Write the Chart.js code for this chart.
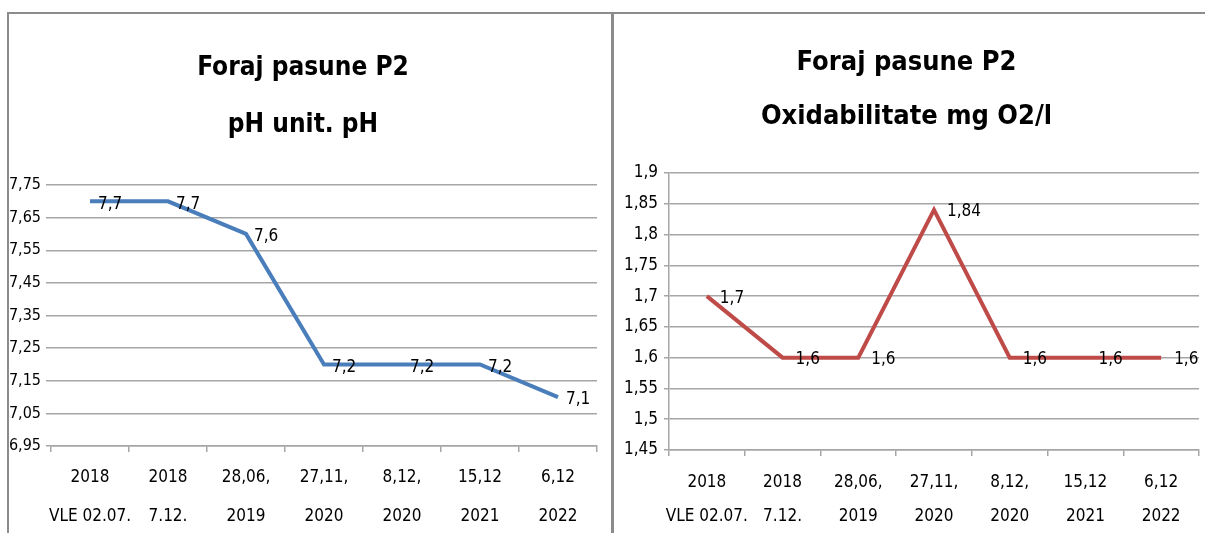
<!DOCTYPE html>
<html><head><meta charset="utf-8">
<script src="https://cdn.jsdelivr.net/npm/chart.js@4.4.1/dist/chart.umd.min.js"></script>
<style>
html,body{margin:0;padding:0;background:#fff;width:1205px;height:533px;overflow:hidden;position:relative}
#frameTop{position:absolute;left:7px;top:12px;width:1198px;height:2px;background:#8c8c8c}
#frameL{position:absolute;left:7px;top:12px;width:2px;height:521px;background:#8c8c8c}
#frameM{position:absolute;left:611px;top:12px;width:3px;height:521px;background:#8c8c8c}
#c1{position:absolute;left:9px;top:14px;width:602px;height:519px}
#c2{position:absolute;left:614px;top:14px;width:591px;height:519px}
</style></head><body>
<div id="frameTop"></div><div id="frameL"></div><div id="frameM"></div>
<canvas id="c1" width="602" height="519"></canvas>
<canvas id="c2" width="591" height="519"></canvas>
<script>
const categories = [['2018','VLE 02.07.'],['2018','7.12.'],['28,06,','2019'],['27,11,','2020'],['8,12,','2020'],['15,12','2021'],['6,12','2022']];
const phValues = [7.7, 7.7, 7.6, 7.2, 7.2, 7.2, 7.1];
const oxValues = [1.7, 1.6, 1.6, 1.84, 1.6, 1.6, 1.6];
const phTicks = [6.95, 7.05, 7.15, 7.25, 7.35, 7.45, 7.55, 7.65, 7.75];
const oxTicks = [1.45, 1.5, 1.55, 1.6, 1.65, 1.7, 1.75, 1.8, 1.85, 1.9];
const phTitle = ['Foraj pasune P2', 'pH unit. pH'];
const oxTitle = ['Foraj pasune P2', 'Oxidabilitate mg O2/l'];

const FONT = "'Liberation Sans Narrow', 'Arial Narrow', 'DejaVu Sans Condensed', 'Liberation Sans', sans-serif";
const GRID = '#a6a6a6';
const fmt = v => String(v).replace('.', ',');

const valueLabels = {
  id: 'valueLabels',
  afterDatasetsDraw(chart, args, opts) {
    const ctx = chart.ctx;
    chart.data.datasets.forEach((ds, di) => {
      const meta = chart.getDatasetMeta(di);
      meta.data.forEach((pt, i) => {
        ctx.save();
        ctx.font = opts.font;
        ctx.fillStyle = '#000';
        ctx.textAlign = 'left';
        ctx.textBaseline = 'middle';
        ctx.fillText(fmt(ds.data[i]), pt.x + opts.dx, pt.y + opts.dy);
        ctx.restore();
      });
    });
  }
};

function makeChart(id, c) {
  return new Chart(document.getElementById(id), {
    type: 'line',
    data: {
      labels: categories,
      datasets: [{ data: c.values, borderColor: c.color, borderWidth: 4, pointRadius: 0, pointHoverRadius: 0, tension: 0, fill: false, borderJoinStyle: 'miter' }]
    },
    options: {
      responsive: false, animation: false, devicePixelRatio: 1,
      layout: { padding: { left: 0, right: c.padRight, top: 0, bottom: 0 } },
      plugins: {
        legend: { display: false },
        tooltip: { enabled: false },
        title: {
          display: true, text: c.title, color: '#000',
          font: { family: FONT, size: c.titleSize, weight: 'bold', lineHeight: c.titleLH + 'px' },
          padding: { top: c.titlePadTop, bottom: c.titlePadBottom }
        },
        valueLabels: { font: c.labelFont, dx: c.dx, dy: c.dy }
      },
      scales: {
        x: {
          offset: true,
          grid: { display: true, drawOnChartArea: false, drawTicks: true, tickLength: 6, offset: true, color: GRID, lineWidth: 1.5 },
          border: { display: true, color: GRID, width: 1.5 },
          ticks: { color: '#000', maxRotation: 0, autoSkip: false, padding: c.xPad, font: { family: FONT, size: c.xFontSize, lineHeight: c.xLH + 'px' } },
          afterFit: s => { s.height = c.xHeight; }
        },
        y: {
          min: c.ticks[0], max: c.ticks[c.ticks.length - 1],
          afterBuildTicks: s => { s.ticks = c.ticks.map(v => ({ value: v })); },
          grid: { color: GRID, lineWidth: 1.5, drawTicks: true, tickLength: 5 },
          border: { display: c.yBorder, color: GRID, width: 1.5 },
          ticks: { color: '#000', padding: c.yPad, callback: v => fmt(v), font: { family: FONT, size: c.yFontSize } },
          afterFit: s => { s.width = c.yWidth; }
        }
      }
    },
    plugins: [valueLabels]
  });
}

makeChart('c1', {
  values: phValues, color: '#4a7ebb', title: phTitle, ticks: phTicks,
  padRight: 14, yWidth: 42, yBorder: false, yPad: 5, yFontSize: 16,
  titleSize: 26, titleLH: 57, titlePadTop: 26, titlePadBottom: 31,
  xHeight: 87, xPad: 6.5, xLH: 39, xFontSize: 17,
  labelFont: "17px " + FONT, dx: 8, dy: 3
});
makeChart('c2', {
  values: oxValues, color: '#be4b48', title: oxTitle, ticks: oxTicks,
  padRight: 6, yWidth: 55, yBorder: true, yPad: 6, yFontSize: 17,
  titleSize: 27, titleLH: 54, titlePadTop: 22, titlePadBottom: 29,
  xHeight: 83, xPad: 10, xLH: 34, xFontSize: 17,
  labelFont: "17px " + FONT, dx: 13, dy: 2
});
</script>
</body></html>
